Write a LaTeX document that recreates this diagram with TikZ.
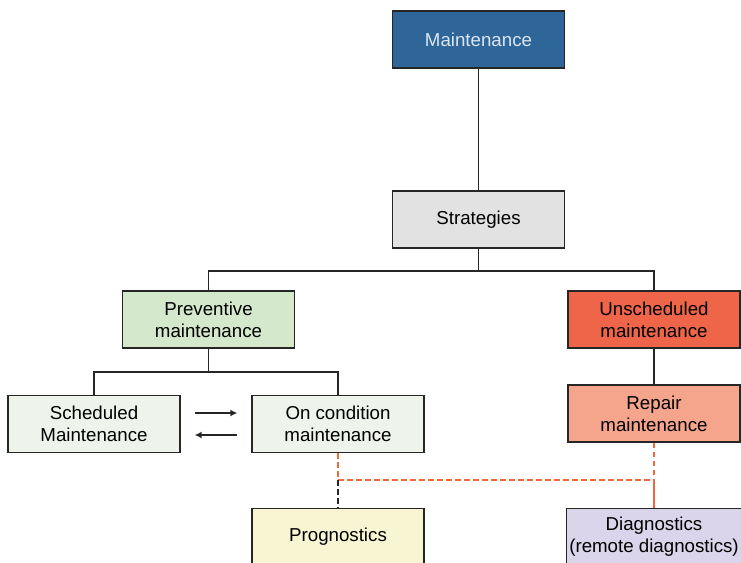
\documentclass[tikz,border=0pt]{standalone}
\usepackage{fontspec}
\setmainfont{Liberation Sans}
\usepackage{xcolor}
\usetikzlibrary{arrows.meta}
\usetikzlibrary{calc}

\definecolor{mainblue}{HTML}{2F6699}
\definecolor{maintext}{HTML}{DCE6F2}
\definecolor{stratgray}{HTML}{E2E2E2}
\definecolor{prevgreen}{HTML}{D4E8CC}
\definecolor{unschred}{HTML}{EE6549}
\definecolor{repairsalmon}{HTML}{F4A58C}
\definecolor{paleGreen}{HTML}{EEF4EC}
\definecolor{progyellow}{HTML}{F8F6D2}
\definecolor{diaglav}{HTML}{DAD5EA}
\definecolor{dashorange}{HTML}{F2683A}

\tikzset{box/.style={draw=black!85,line width=0.9pt,minimum width=4.3cm,minimum height=1.43cm,
    align=center,inner sep=2pt,font=\fontsize{13.3}{15.5}\selectfont}}
\tikzset{link/.style={line width=0.9pt,black!85}}
\tikzset{orangedash/.style={line width=0.9pt,dashorange,dash pattern=on 4pt off 2.4pt}}

\begin{document}
\begin{tikzpicture}[x=0.025cm,y=-0.025cm]
\useasboundingbox (0,0) rectangle (741,562);

\node[box,fill=mainblue,text=maintext] (maint) at (478.5,39.5) {Maintenance};
\node[box,fill=stratgray] (strat) at (478.5,219.5) {Strategies};

\node[box,fill=prevgreen] (prev) at (208.5,319.5) {Preventive\\maintenance};
\node[box,fill=unschred] (unsch) at (654,319.5) {Unscheduled\\maintenance};

\node[box,fill=paleGreen] (sched) at (94,424) {Scheduled\\Maintenance};
\node[box,fill=paleGreen] (oncond) at (338,424) {On condition\\maintenance};
\node[box,fill=repairsalmon] (repair) at (654,413.5) {Repair\\maintenance};

\node[box,fill=progyellow] (prog) at (338,537) {Prognostics};
\node[box,fill=diaglav] (diag) at (654,537) {Diagnostics\\(remote diagnostics)};

% tree
\coordinate (split1) at (478.5,271);
\coordinate (split2) at (208.5,372);
\draw[link] (maint) -- (strat);
\draw[link] (strat) -- (split1);
\draw[link] (prev.north) |- (split1) -| (unsch.north);
\draw[link] (prev) -- (split2);
\draw[link] (sched.north) |- (split2) -| (oncond.north);
\draw[link] (unsch) -- (repair);

\draw[link,line width=1.2pt,-{Latex[length=5pt,width=5pt]}] ($(sched.east)+(14,-11)$) -- ($(oncond.west)+(-14,-11)$);
\draw[link,line width=1.2pt,-{Latex[length=5pt,width=5pt]}] ($(oncond.west)+(-14,11)$) -- ($(sched.east)+(14,11)$);

% diagnosis links
\coordinate (joinL) at (338,480);
\coordinate (joinR) at (654,480);
\draw[orangedash] (oncond) -- (joinL) -- (joinR);
\draw[orangedash] (repair) -- (joinR);
\draw[line width=0.9pt,dashorange] (joinR) -- (diag);
\draw[line width=0.9pt,black!85,dash pattern=on 4pt off 2.4pt] (joinL) -- (prog);

\end{tikzpicture}
\end{document}
